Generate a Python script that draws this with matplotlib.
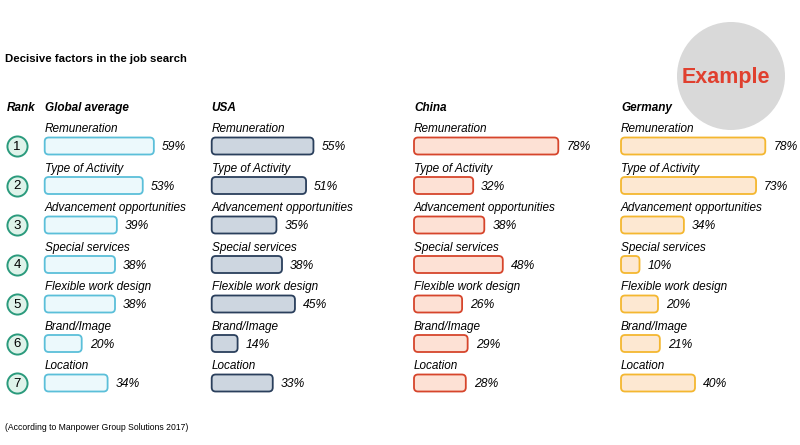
import matplotlib
matplotlib.use('Agg')
import matplotlib.pyplot as plt
from matplotlib.patches import FancyBboxPatch, Circle

plt.rcParams['font.family'] = ['Liberation Sans', 'DejaVu Sans']

# data
factors = ['Remuneration', 'Type of Activity', 'Advancement opportunities',
           'Special services', 'Flexible work design', 'Brand/Image', 'Location']
ranks = [1, 2, 3, 4, 5, 6, 7]
regions = ['Global average', 'USA', 'China', 'Germany']
global_avg = [59, 53, 39, 38, 38, 20, 34]
usa = [55, 51, 35, 38, 45, 14, 33]
china = [78, 32, 38, 48, 26, 29, 28]
germany = [78, 73, 34, 10, 20, 21, 40]

series = [global_avg, usa, china, germany]
fills = ['#ecf9fc', '#cdd6e0', '#fde1d5', '#fde8d2']
edges = ['#5bbfd9', '#2a3f5c', '#d6452c', '#f4b730']
col_left = [44.7, 211.7, 414, 621]

W, H = 800, 445
fig = plt.figure(figsize=(8, 4.45), dpi=100)


def px_axes(left, top, width, height, z=1):
    ax = fig.add_axes([left / W, 1 - (top + height) / H, width / W, height / H])
    ax.set_zorder(z)
    ax.axis('off')
    return ax


px_per_pct = 1.85
row_y0 = 146
row_step = 39.5
top_px, bot_px = 95, 400
ylim = ((bot_px - row_y0) / row_step, (top_px - row_y0) / row_step)
bar_h = 17 / row_step
head_y = (108 - row_y0) / row_step
rows = [r - 1 for r in ranks]

# background layer: title, note, "Example" stamp
bg = px_axes(0, 0, W, H, z=0)
bg.set_xlim(0, W)
bg.set_ylim(H, 0)
bg.add_patch(Circle((731, 76), 54, facecolor='#d9d9d9', edgecolor='none'))
bg.text(726, 77, 'Example', color='#e0402f', fontsize=15.5, weight='bold',
        ha='center', va='center')
bg.text(5, 59, 'Decisive factors in the job search', fontsize=8.2,
        weight='bold', va='center')
bg.text(5, 427, '(According to Manpower Group Solutions 2017)', fontsize=6.2,
        va='center')

# rank column
rk = px_axes(0, top_px, 40, bot_px - top_px)
rk.set_xlim(0, 40)
rk.set_ylim(*ylim)
rk.scatter([17] * len(ranks), rows, s=210, facecolor='#dff3ea',
           edgecolor='#2a9a7c', linewidth=1.4, clip_on=False)
for r, n in zip(rows, ranks):
    rk.text(17, r + 0.02, str(n), fontsize=9.5, ha='center', va='center')
rk.text(7, head_y, 'Rank', fontsize=8.5, weight='bold', style='italic',
        va='center')

# one panel per region
aw = 185
for name, vals, fc, ec, x0 in zip(regions, series, fills, edges, col_left):
    ax = px_axes(x0, top_px, aw, bot_px - top_px)
    ax.set_xlim(0, aw / px_per_pct)
    ax.set_ylim(*ylim)
    ax.text(0, head_y, name, fontsize=8.5, weight='bold', style='italic',
            va='center')
    for r, lab, v in zip(rows, factors, vals):
        box = FancyBboxPatch((0, r - bar_h / 2), v, bar_h,
                             boxstyle='round,pad=0,rounding_size=%f' % (4 / px_per_pct),
                             mutation_aspect=px_per_pct / row_step,
                             facecolor=fc, edgecolor=ec, linewidth=1.3,
                             clip_on=False)
        ax.add_patch(box)
        ax.text(0, r - 0.43, lab, fontsize=8.5, style='italic', va='center')
        ax.text(v + 8 / px_per_pct, r + 0.03, '%d%%' % v, fontsize=8.7,
                style='italic', va='center', clip_on=False)

fig.savefig('out.png', dpi=100, facecolor='white')
